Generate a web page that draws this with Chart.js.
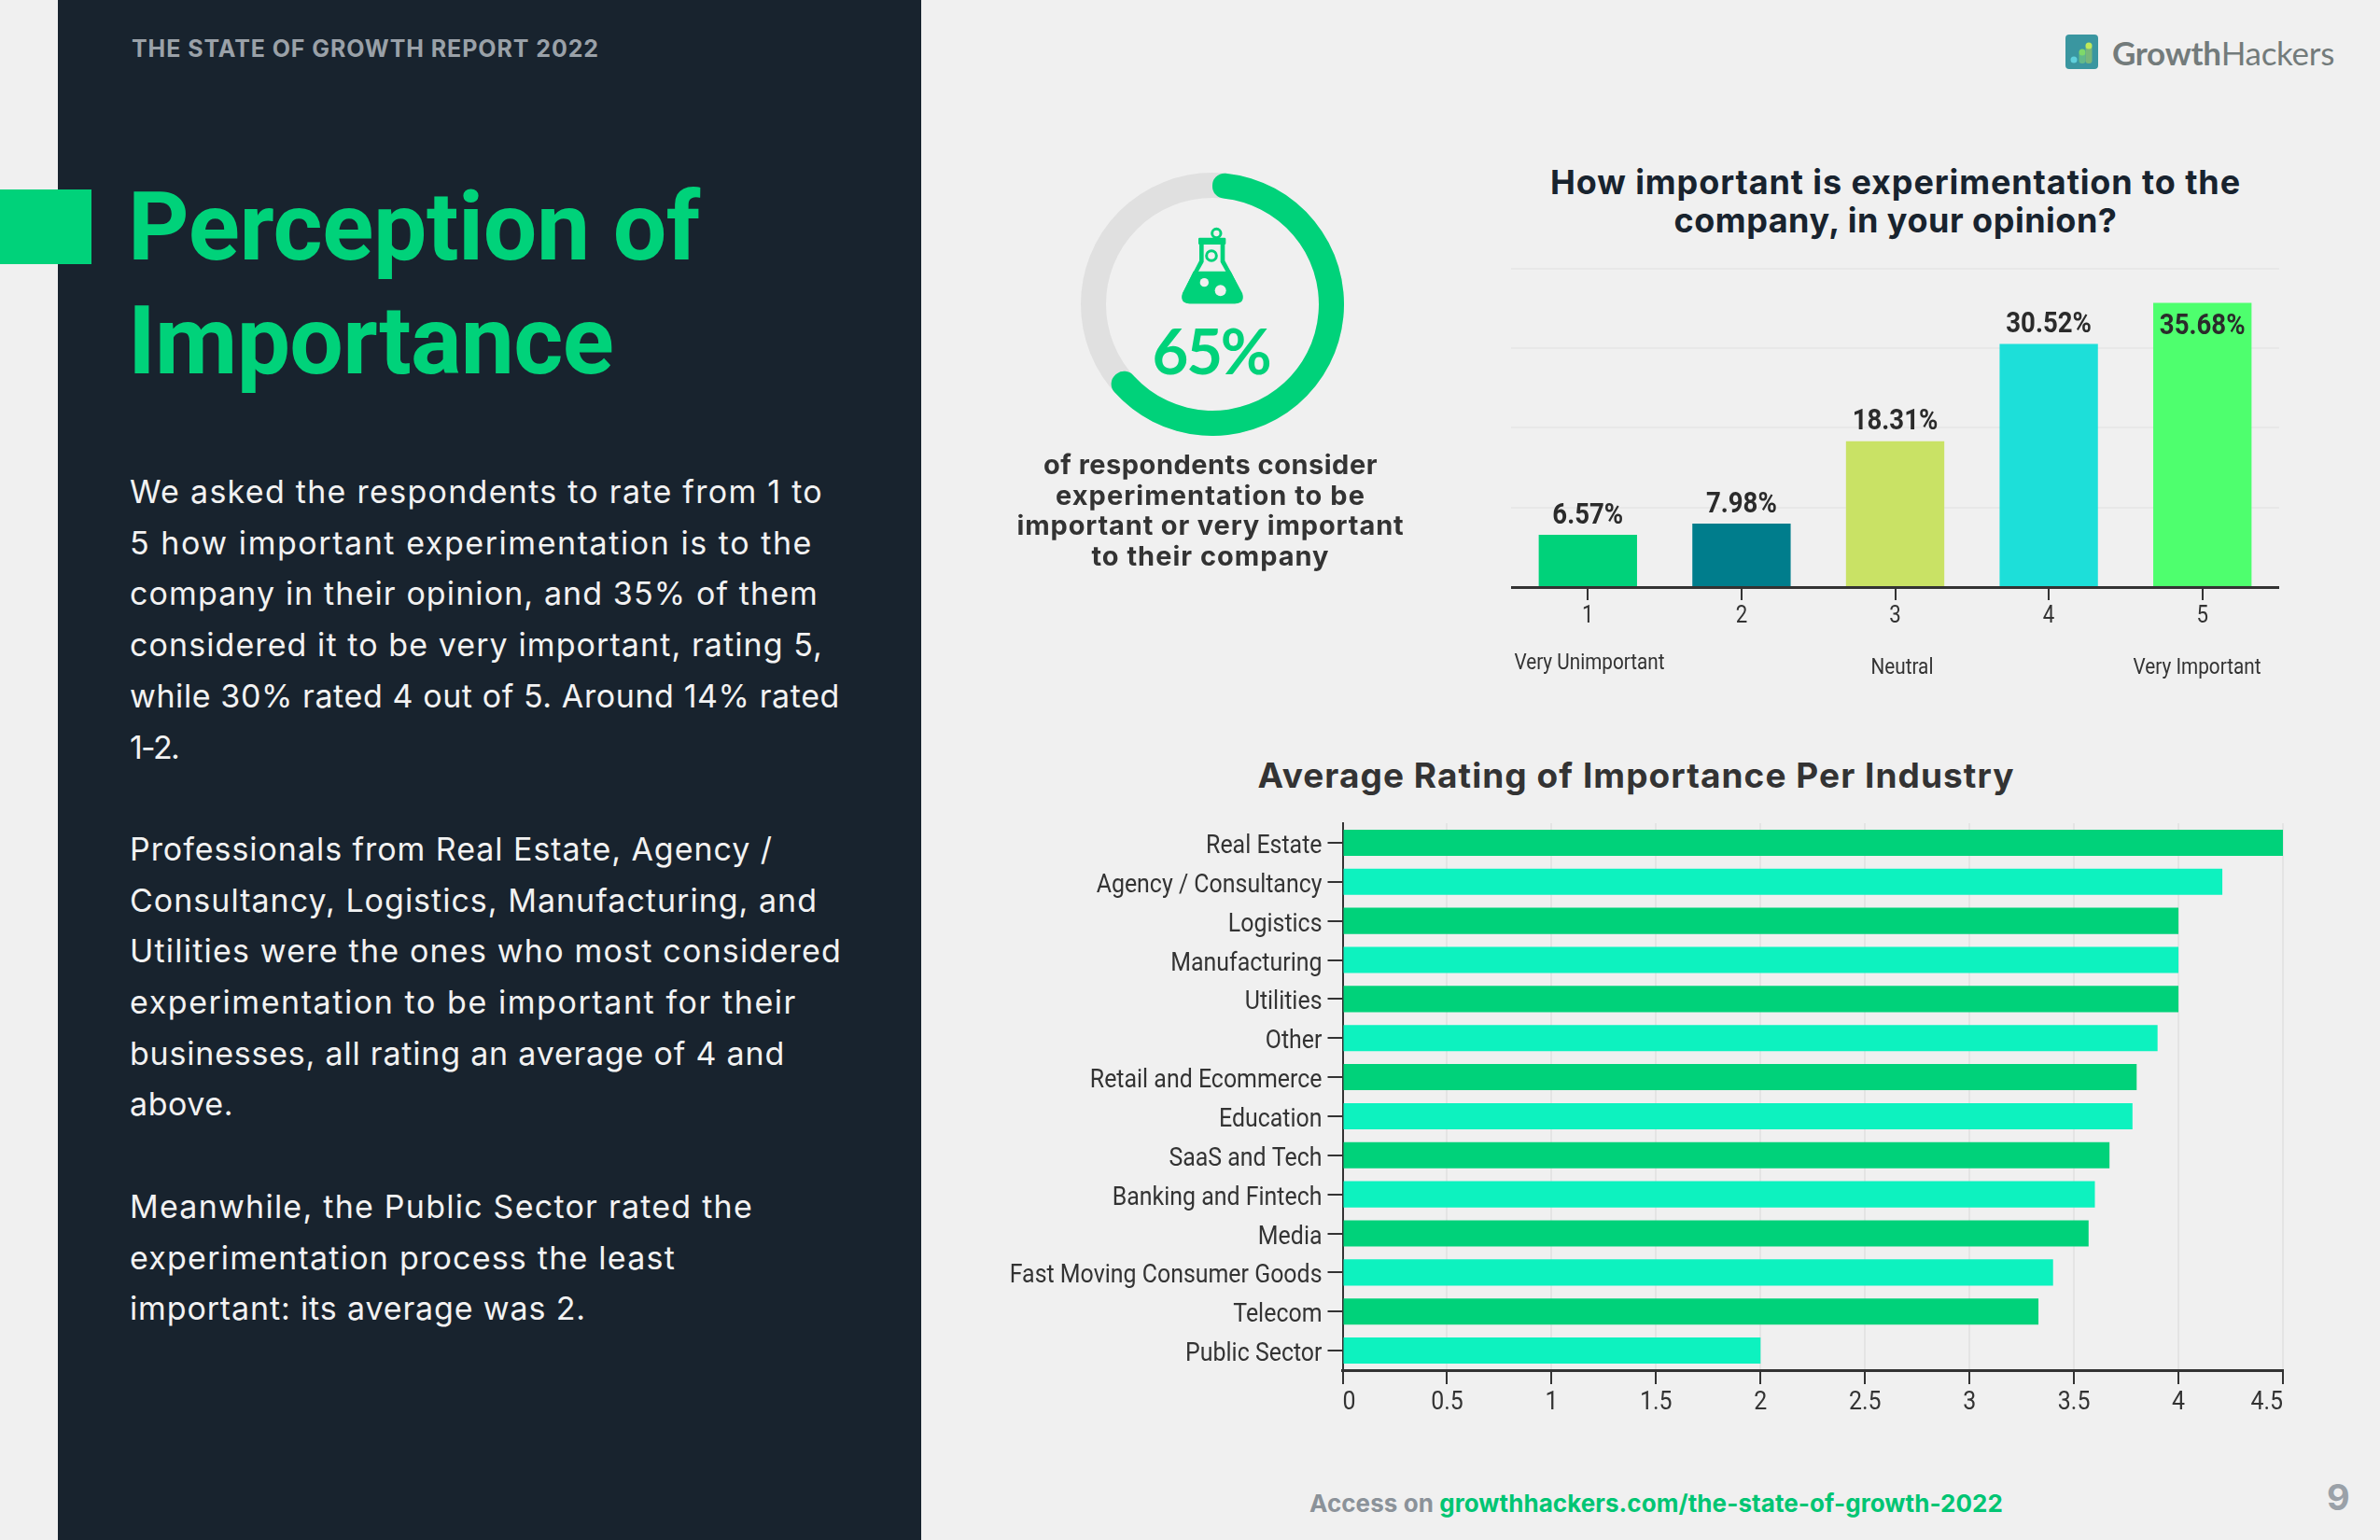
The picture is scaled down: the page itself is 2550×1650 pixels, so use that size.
<!DOCTYPE html>
<html>
<head>
<meta charset="utf-8">
<title>Perception of Importance</title>
<script src="https://cdn.jsdelivr.net/npm/chart.js@4"></script>
<style>
  html, body { margin: 0; padding: 0; }
  body { width: 2550px; height: 1650px; background: #f0f0f0; position: relative; overflow: hidden; font-family: Inter, sans-serif; }
  .abs { position: absolute; white-space: nowrap; }
  canvas { position: absolute; }
  .center { text-align: center; }
  [data-w] { display: inline-block; }
  .narrow { font-family: Roboto, sans-serif; color: #333; font-size: 23px; transform: translateX(-50%) scaleX(0.9); }
</style>
</head>
<body>
  <div class="abs" style="left:62px;top:0;width:925px;height:1650px;background:#18232e"></div>
  <div class="abs" style="left:0;top:203px;width:98px;height:80px;background:#00d27a"></div>
  <div class="abs" style="left:141px;top:36px;font-size:25px;line-height:32px;font-weight:700;color:#9aa1a8"><span data-w="501">THE STATE OF GROWTH REPORT 2022</span></div>
  <div class="abs" style="left:137px;top:182px;font-family:Roboto;font-size:102px;line-height:122px;font-weight:700;color:#00d27a"><span data-w="613">Perception of</span><br><span data-w="520">Importance</span></div>
  <div class="abs" style="left:139px;top:500px;font-size:34px;line-height:54.7px;color:#f2f2f2">
    <span data-w="743">We asked the respondents to rate from 1 to</span><br>
    <span data-w="732">5 how important experimentation is to the</span><br>
    <span data-w="738">company in their opinion, and 35% of them</span><br>
    <span data-w="743">considered it to be very important, rating 5,</span><br>
    <span data-w="761">while 30% rated 4 out of 5. Around 14% rated</span><br>
    <span data-w="52">1-2.</span><br><br>
    <span data-w="689">Professionals from Real Estate, Agency /</span><br>
    <span data-w="737">Consultancy, Logistics, Manufacturing, and</span><br>
    <span data-w="763">Utilities were the ones who most considered</span><br>
    <span data-w="715">experimentation to be important for their</span><br>
    <span data-w="702">businesses, all rating an average of 4 and</span><br>
    <span data-w="111">above.</span><br><br>
    <span data-w="668">Meanwhile, the Public Sector rated the</span><br>
    <span data-w="585">experimentation process the least</span><br>
    <span data-w="489">important: its average was 2.</span>
  </div>

  <svg class="abs" style="left:2213px;top:37px" width="35" height="37" viewBox="0 0 35 37">
    <rect width="35" height="37" rx="4" fill="#3a96a0"/>
    <circle cx="9" cy="27" r="3.5" fill="#5fd0dc"/>
    <rect x="14.5" y="18" width="7" height="13" rx="3" fill="#62b98a"/>
    <circle cx="18" cy="19" r="3.5" fill="#7ed96a"/>
    <rect x="21.5" y="11" width="7" height="20" rx="3" fill="#79b77a"/>
    <circle cx="25" cy="12" r="3.5" fill="#bfe85a"/>
  </svg>
  <div class="abs" style="left:2263px;top:36px;font-family:Lato;font-size:35px;line-height:40px;color:#737b7b"><span data-w="238"><span style="font-weight:700">Growth</span><span style="font-weight:400">Hackers</span></span></div>

  <canvas id="gaugeChart" width="282" height="282" style="left:1158px;top:185px"></canvas>
  <svg class="abs" style="left:1150px;top:170px" width="320" height="320" viewBox="0 0 960 960">
    <g fill="#00d27a">
      <rect x="402" y="254" width="88" height="22" rx="4"/>
      <path d="M405 276h14v56l-27 48h108l-27-48v-56h14v52l56 104q10 32-22 34h-148q-32-2-22-34l54-104z"/>
      <path d="M386 362h120l34 70q8 32-22 34h-144q-30-2-22-34z"/>
    </g>
    <g fill="none" stroke="#00d27a" stroke-width="9">
      <circle cx="460" cy="240" r="14"/>
      <circle cx="444" cy="312" r="16"/>
    </g>
    <circle cx="421" cy="398" r="14" fill="#f0f0f0"/>
    <circle cx="473" cy="424" r="18" fill="#f0f0f0"/>
  </svg>
  <div class="abs center" style="left:1147.5px;width:300px;top:335px;font-family:Lato;font-size:67px;line-height:80px;font-weight:700;color:#00d27a"><span data-w="126">65%</span></div>
  <div class="abs center" style="left:1047px;width:500px;top:482px;font-size:29px;line-height:32.7px;font-weight:700;color:#333"><span data-w="358">of respondents consider</span><br><span data-w="332">experimentation to be</span><br><span data-w="415">important or very important</span><br><span data-w="255">to their company</span></div>

  <div class="abs center" style="left:1531px;width:1000px;top:175px;font-size:36px;line-height:41px;font-weight:700;color:#18232e"><span data-w="740">How important is experimentation to the</span><br><span data-w="475">company, in your opinion?</span></div>
  <canvas id="ratingChart" width="823" height="420" style="left:1619px;top:280px"></canvas>
  <div class="abs narrow" style="left:1703px;top:696px">Very Unimportant</div>
  <div class="abs narrow" style="left:2038px;top:701px">Neutral</div>
  <div class="abs narrow" style="left:2354px;top:701px">Very Important</div>

  <div class="abs center" style="left:1253px;width:1000px;top:810px;font-size:37px;line-height:42px;font-weight:700;color:#333"><span data-w="811">Average Rating of Importance Per Industry</span></div>
  <canvas id="industryChart" width="1389" height="651" style="left:1060px;top:872px"></canvas>

  <div class="abs" style="left:1403px;top:1595px;font-size:26px;line-height:32px;font-weight:700;color:#8b9299"><span data-w="743">Access on <span style="color:#00c573">growthhackers.com/the-state-of-growth-2022</span></span></div>
  <div class="abs" style="left:2493px;top:1581px;font-size:38px;line-height:46px;font-weight:700;color:#9aa1a8">9</div>

<script>
// gauge
const gaugeValues = [65, 35];

// how important is experimentation
const ratingLabels = ["1", "2", "3", "4", "5"];
const ratingValues = [6.57, 7.98, 18.31, 30.52, 35.68];
const ratingColors = ["#00d27a", "#007d8c", "#c9e265", "#1ddfd9", "#4eff6e"];

// average rating per industry
const industryLabels = ["Real Estate", "Agency / Consultancy", "Logistics", "Manufacturing", "Utilities", "Other",
  "Retail and Ecommerce", "Education", "SaaS and Tech", "Banking and Fintech", "Media",
  "Fast Moving Consumer Goods", "Telecom", "Public Sector"];
const industryValues = [4.5, 4.21, 4, 4, 4, 3.9, 3.8, 3.78, 3.67, 3.6, 3.57, 3.4, 3.33, 2];
const industryColors = ["#00d27a", "#0df2bf"];

const axisColor = "#333";

Chart.defaults.animation = false;
Chart.defaults.responsive = false;
Chart.defaults.devicePixelRatio = 1;
Chart.defaults.plugins.legend.display = false;
Chart.defaults.plugins.tooltip.enabled = false;
Chart.defaults.font.family = "Roboto, sans-serif";
Chart.defaults.color = axisColor;

// no condensed font installed, so squeeze the canvas text sideways
function condensedContext(id, dy) {
  const ctx = document.getElementById(id).getContext("2d");
  const fill = ctx.fillText.bind(ctx);
  ctx.fillText = (text, x, y) => {
    ctx.save();
    ctx.translate(x, y + dy);
    ctx.scale(0.89, 1);
    fill(text, 0, 0);
    ctx.restore();
  };
  return ctx;
}

// grey ring behind the green arc
const gaugeTrack = {
  id: "gaugeTrack",
  beforeDatasetsDraw(chart) {
    const arc = chart.getDatasetMeta(0).data[0];
    const ctx = chart.ctx;
    ctx.save();
    ctx.beginPath();
    ctx.arc(arc.x, arc.y, (arc.outerRadius + arc.innerRadius) / 2, 0, Math.PI * 2);
    ctx.lineWidth = arc.outerRadius - arc.innerRadius;
    ctx.strokeStyle = "#e0e0e0";
    ctx.stroke();
    ctx.restore();
  }
};

new Chart(document.getElementById("gaugeChart").getContext("2d"), {
  type: "doughnut",
  data: {
    datasets: [{
      data: gaugeValues,
      backgroundColor: ["#00d27a", "transparent"],
      borderWidth: 0,
      borderRadius: 13
    }]
  },
  options: { cutout: 114 },
  plugins: [gaugeTrack]
});

// percent labels over the bars, the tallest one sits inside
const barLabels = {
  id: "barLabels",
  afterDatasetsDraw(chart) {
    const ctx = chart.ctx;
    ctx.save();
    ctx.font = "bold 31px Roboto, sans-serif";
    ctx.fillStyle = "#2b2b2b";
    ctx.textAlign = "center";
    ctx.textBaseline = "middle";
    chart.getDatasetMeta(0).data.forEach((bar, i) => {
      const offset = i === ratingValues.length - 1 ? 25.5 : -20;
      ctx.fillText(ratingValues[i].toFixed(2) + "%", bar.x, bar.y + offset);
    });
    ctx.restore();
  }
};

new Chart(condensedContext("ratingChart", 0), {
  type: "bar",
  data: {
    labels: ratingLabels,
    datasets: [{ data: ratingValues, backgroundColor: ratingColors, categoryPercentage: 1, barPercentage: 0.64 }]
  },
  options: {
    layout: { padding: { top: 7.6 } },
    scales: {
      x: {
        grid: { offset: false, drawOnChartArea: false, tickLength: 14, tickColor: axisColor, lineWidth: 2 },
        border: { color: axisColor, width: 3 },
        ticks: { padding: 3, font: { size: 25 } },
        afterFit: s => { s.height = 71; }
      },
      y: {
        min: 0,
        max: 40,
        grid: { color: "#e8e8e8", lineWidth: 2, drawTicks: false },
        border: { display: false },
        ticks: { display: false, stepSize: 10 },
        afterFit: s => { s.width = 0; }
      }
    }
  },
  plugins: [barLabels]
});

new Chart(condensedContext("industryChart", 4), {
  type: "bar",
  data: {
    labels: industryLabels,
    datasets: [{
      data: industryValues,
      backgroundColor: industryLabels.map((_, i) => industryColors[i % 2]),
      categoryPercentage: 1,
      barPercentage: 0.67
    }]
  },
  options: {
    indexAxis: "y",
    layout: { padding: { top: 10, right: 3 } },
    scales: {
      x: {
        min: 0,
        max: 4.5,
        grid: { color: "#e4e4e4", lineWidth: 2, tickLength: 15, tickColor: axisColor },
        border: { color: axisColor, width: 3 },
        ticks: { stepSize: 0.5, align: "inner", padding: -1, maxRotation: 0, font: { size: 28 }, callback: v => String(v) },
        afterFit: s => { s.height = 55; }
      },
      y: {
        grid: { offset: false, drawOnChartArea: false, tickLength: 16, tickColor: axisColor, lineWidth: 2 },
        border: { color: axisColor, width: 2 },
        ticks: { padding: 6, font: { size: 28 }, autoSkip: false },
        afterFit: s => { s.width = 378.5; s.paddingTop = 0; s.paddingBottom = 0; }
      }
    }
  }
});

// Montserrat is missing too, stretch each line to the width it has in the report
document.querySelectorAll("[data-w]").forEach(el => {
  const w = el.getBoundingClientRect().width;
  el.style.letterSpacing = (Number(el.dataset.w) - w) / el.textContent.length + "px";
});
</script>
</body>
</html>
